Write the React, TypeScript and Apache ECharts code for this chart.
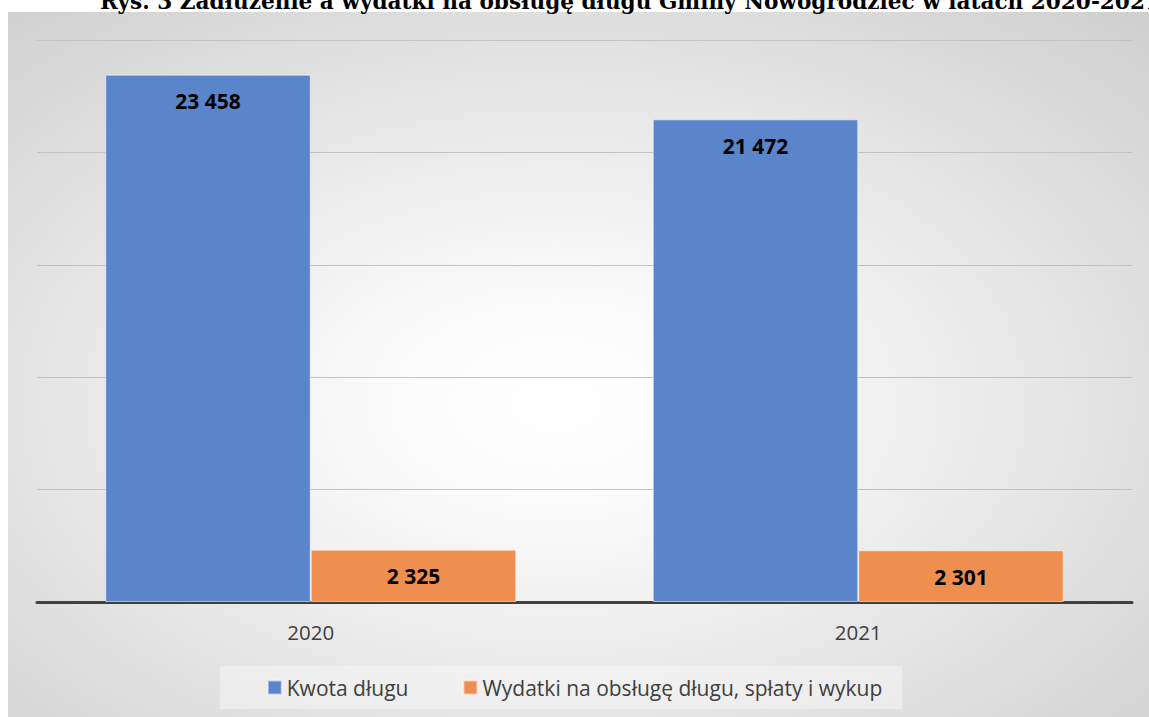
import React, { useEffect, useRef } from "react";
import * as echarts from "echarts";

const categories = ["2020", "2021"];
const debtAmount = [23458, 21472];
const debtServiceSpending = [2325, 2301];
const seriesNames = ["Kwota długu", "Wydatki na obsługę długu, spłaty i wykup"];
const titleText = "Rys. 3 Zadłużenie a wydatki na obsługę długu Gminy Nowogrodziec w latach 2020-2021";

const fmt = (v: number) => String(v).replace(/\B(?=(\d{3})+(?!\d))/g, " ");

export default function App() {
  const ref = useRef<HTMLDivElement>(null);
  useEffect(() => {
    if (!ref.current) return;
    const chart = echarts.init(ref.current, null, { renderer: "svg" });
    const labelStyle = {
      show: true,
      position: "insideTop" as const,
      distance: 16,
      color: "#000",
      fontWeight: "bold" as const,
      fontSize: 21,
      fontFamily: "Open Sans",
      formatter: (p: any) => fmt(p.value),
    };
    chart.setOption({
      animation: false,
      backgroundColor: "#ffffff",
      graphic: [
        {
          type: "rect",
          z: -100,
          silent: true,
          shape: { x: 8, y: 12, width: 1141, height: 710 },
          style: {
            fill: {
              type: "radial",
              x: 0.48,
              y: 0.55,
              r: 1,
              colorStops: [
                { offset: 0, color: "#ffffff" },
                { offset: 0.15, color: "#fbfbfb" },
                { offset: 1, color: "#bdbdbd" },
              ],
            },
          },
        },
        {
          type: "text",
          left: 100,
          top: -10,
          style: {
            text: titleText,
            fill: "#000",
            font: "bold 21.6px 'DejaVu Serif'",
          },
        },
      ],
      grid: { left: 37, right: 17, top: 40, bottom: 115 },
      legend: {
        bottom: 8,
        left: "center",
        data: seriesNames,
        itemWidth: 14,
        itemHeight: 14,
        itemGap: 54,
        icon: "rect",
        padding: [11, 20, 11, 47],
        backgroundColor: "rgba(245,245,245,0.55)",
        textStyle: { color: "#404040", fontSize: 21, fontFamily: "Open Sans" },
      },
      xAxis: {
        type: "category",
        data: categories,
        axisTick: { show: false },
        axisLine: { lineStyle: { color: "#404040", width: 3 } },
        axisLabel: { color: "#404040", fontSize: 20.5, fontFamily: "Open Sans", margin: 19 },
      },
      yAxis: {
        type: "value",
        min: 0,
        max: 25000,
        interval: 5000,
        axisLabel: { show: false },
        axisLine: { show: false },
        axisTick: { show: false },
        splitLine: { lineStyle: { color: "#c2c2c2", width: 1 } },
      },
      series: [
        {
          name: seriesNames[0],
          type: "bar",
          data: debtAmount,
          barWidth: 205.5,
          barGap: "0%",
          itemStyle: { color: "#5b85cb", borderColor: "rgba(255,255,255,0.55)", borderWidth: 1 },
          label: labelStyle,
        },
        {
          name: seriesNames[1],
          type: "bar",
          data: debtServiceSpending,
          barWidth: 205.5,
          itemStyle: { color: "#ef8f4f", borderColor: "rgba(255,255,255,0.55)", borderWidth: 1 },
          label: labelStyle,
        },
      ],
    });
    return () => chart.dispose();
  }, []);
  return (
    <div
      ref={ref}
      style={{ position: "fixed", left: 0, top: 0, width: 1149, height: 717 }}
    />
  );
}
